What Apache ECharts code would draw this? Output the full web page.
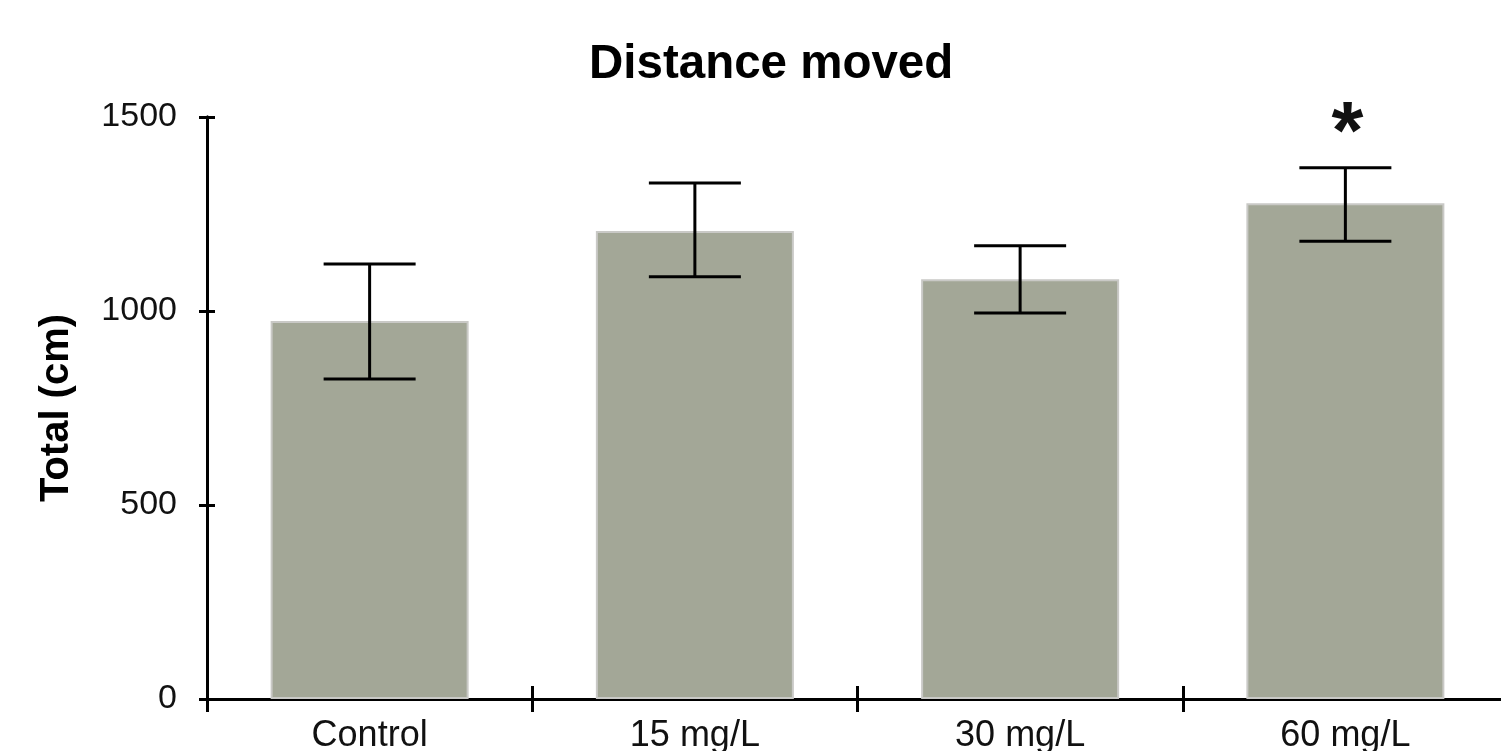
<!DOCTYPE html>
<html><head><meta charset="utf-8">
<script src="https://cdn.jsdelivr.net/npm/echarts@6/dist/echarts.min.js"></script>
<style>html,body{margin:0;padding:0;background:#fff}#c{width:1501px;height:751px}</style>
</head><body><div id="c"></div>
<script>
var categories = ['Control', '15 mg/L', '30 mg/L', '60 mg/L'];
var means = [974, 1206, 1082, 1278];
var errHigh = [1121, 1330, 1168, 1369];
var errLow = [825, 1088, 995, 1180];
var marks = ['', '', '', '*'];
var yTicks = [0, 500, 1000, 1500];

var FONT = '"Liberation Sans", Arial, sans-serif';
var chart = echarts.init(document.getElementById('c'), null, {renderer: 'canvas'});
var errData = categories.map(function (c, i) { return [i, errLow[i], errHigh[i], marks[i]]; });
var gridBox = {left: 207, width: 1301, top: 117, height: 582, containLabel: false, outerBoundsMode: 'none'};

chart.setOption({
  animation: false,
  backgroundColor: '#ffffff',
  title: {
    text: 'Distance moved', left: 584, top: 36,
    textStyle: {fontFamily: FONT, fontWeight: 'bold', fontSize: 47.5, color: '#000'}
  },
  grid: [echarts.util.extend({}, gridBox), echarts.util.extend({}, gridBox)],
  xAxis: [{
    type: 'category', data: categories, position: 'bottom', gridIndex: 0,
    axisLine: {lineStyle: {color: '#000', width: 3}},
    axisTick: {show: true, length: 13, lineStyle: {color: '#000', width: 3}},
    axisLabel: {fontFamily: FONT, fontSize: 36, color: '#111', margin: 19}
  }, {
    type: 'category', data: categories, position: 'bottom', gridIndex: 1,
    axisLine: {show: true, lineStyle: {color: '#000', width: 3}},
    axisTick: {show: true, inside: true, length: 13, lineStyle: {color: '#000', width: 3}},
    axisLabel: {show: false}
  }],
  yAxis: [{
    type: 'value', min: yTicks[0], max: yTicks[yTicks.length - 1], interval: 500, gridIndex: 0,
    name: 'Total (cm)', nameLocation: 'middle', nameGap: 130,
    nameTextStyle: {fontFamily: FONT, fontWeight: 'bold', fontSize: 40, color: '#000'},
    axisLine: {show: true, lineStyle: {color: '#000', width: 3}},
    axisTick: {show: true, length: 8, lineStyle: {color: '#000', width: 3}},
    axisLabel: {fontFamily: FONT, fontSize: 34, color: '#111', margin: 30,
      formatter: function (v) { return String(v); }},
    splitLine: {show: false}
  }, {
    type: 'value', min: yTicks[0], max: yTicks[yTicks.length - 1], interval: 500, gridIndex: 1,
    axisLine: {show: true, lineStyle: {color: '#000', width: 3}},
    axisTick: {show: true, inside: true, length: 8, lineStyle: {color: '#000', width: 3}},
    axisLabel: {show: false}, splitLine: {show: false}
  }],
  series: [{
    type: 'bar', data: means, barWidth: 198, xAxisIndex: 0, yAxisIndex: 0,
    itemStyle: {color: '#a3a797', borderColor: '#c9c9c6', borderWidth: 2}
  }, {
    type: 'custom', data: errData, xAxisIndex: 0, yAxisIndex: 0, z: 5,
    renderItem: function (params, api) {
      var x = api.value(0);
      var lo = api.coord([x, api.value(1)]);
      var hi = api.coord([x, api.value(2)]);
      var hw = 46;
      var st = {stroke: '#000', lineWidth: 3};
      var children = [
        {type: 'line', shape: {x1: lo[0], y1: lo[1], x2: hi[0], y2: hi[1]}, style: st},
        {type: 'line', shape: {x1: lo[0] - hw, y1: lo[1], x2: lo[0] + hw, y2: lo[1]}, style: st},
        {type: 'line', shape: {x1: hi[0] - hw, y1: hi[1], x2: hi[0] + hw, y2: hi[1]}, style: st}
      ];
      var m = api.value(3);
      if (m) {
        children.push({type: 'text', x: hi[0] + 2, y: hi[1] - 32, style: {
          text: m, fontFamily: FONT, fontWeight: 'bold', fontSize: 82, fill: '#111',
          align: 'center', verticalAlign: 'middle'}});
      }
      return {type: 'group', children: children};
    }
  }, {
    type: 'bar', data: [], xAxisIndex: 1, yAxisIndex: 1
  }]
});
</script></body></html>
